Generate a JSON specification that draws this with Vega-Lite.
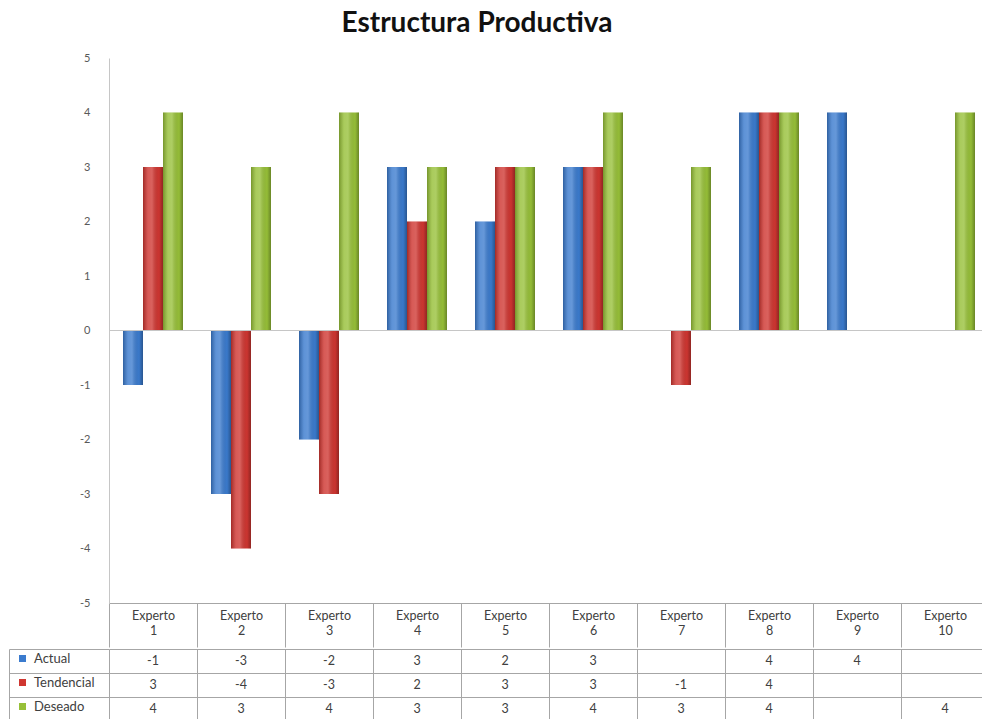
{
  "$schema": "https://vega.github.io/schema/vega-lite/v6.json",
  "padding": {"left": 8, "top": 10, "right": -6, "bottom": 0},
  "autosize": {"type": "pad"},
  "background": "white",
  "title": {"text": "Estructura Productiva", "font": "Lato", "fontSize": 28, "fontWeight": "bold", "color": "#111111", "anchor": "middle", "frame": "bounds", "offset": 14, "dx": -22},
  "config": {"view": {"stroke": null}, "font": "Lato"},
  "spacing": 0,
  "datasets": {
    "puntajes": [
      {"experto": "Experto 1", "serie": "Actual", "valor": -1},
      {"experto": "Experto 1", "serie": "Tendencial", "valor": 3},
      {"experto": "Experto 1", "serie": "Deseado", "valor": 4},
      {"experto": "Experto 2", "serie": "Actual", "valor": -3},
      {"experto": "Experto 2", "serie": "Tendencial", "valor": -4},
      {"experto": "Experto 2", "serie": "Deseado", "valor": 3},
      {"experto": "Experto 3", "serie": "Actual", "valor": -2},
      {"experto": "Experto 3", "serie": "Tendencial", "valor": -3},
      {"experto": "Experto 3", "serie": "Deseado", "valor": 4},
      {"experto": "Experto 4", "serie": "Actual", "valor": 3},
      {"experto": "Experto 4", "serie": "Tendencial", "valor": 2},
      {"experto": "Experto 4", "serie": "Deseado", "valor": 3},
      {"experto": "Experto 5", "serie": "Actual", "valor": 2},
      {"experto": "Experto 5", "serie": "Tendencial", "valor": 3},
      {"experto": "Experto 5", "serie": "Deseado", "valor": 3},
      {"experto": "Experto 6", "serie": "Actual", "valor": 3},
      {"experto": "Experto 6", "serie": "Tendencial", "valor": 3},
      {"experto": "Experto 6", "serie": "Deseado", "valor": 4},
      {"experto": "Experto 7", "serie": "Actual", "valor": null},
      {"experto": "Experto 7", "serie": "Tendencial", "valor": -1},
      {"experto": "Experto 7", "serie": "Deseado", "valor": 3},
      {"experto": "Experto 8", "serie": "Actual", "valor": 4},
      {"experto": "Experto 8", "serie": "Tendencial", "valor": 4},
      {"experto": "Experto 8", "serie": "Deseado", "valor": 4},
      {"experto": "Experto 9", "serie": "Actual", "valor": 4},
      {"experto": "Experto 9", "serie": "Tendencial", "valor": null},
      {"experto": "Experto 9", "serie": "Deseado", "valor": null},
      {"experto": "Experto 10", "serie": "Actual", "valor": null},
      {"experto": "Experto 10", "serie": "Tendencial", "valor": null},
      {"experto": "Experto 10", "serie": "Deseado", "valor": 4}
    ]
  },
  "vconcat": [
    {
      "width": 880,
      "height": 545,
      "data": {"name": "puntajes"},
      "layer": [
        {
          "mark": {"type": "bar"},
          "encoding": {
            "x": {"field": "experto", "type": "nominal", "sort": ["Experto 1", "Experto 2", "Experto 3", "Experto 4", "Experto 5", "Experto 6", "Experto 7", "Experto 8", "Experto 9", "Experto 10"], "scale": {"paddingInner": 0, "paddingOuter": 0},
              "axis": {"title": null, "orient": "bottom", "labelAngle": 0, "labelExpr": "split(datum.label, ' ')", "labelFont": "Lato", "labelFontSize": 12.5, "labelColor": "#404040", "labelLineHeight": 15, "labelBaseline": "top", "tickBand": "extent", "tickSize": 44, "tickColor": "#a6a6a6", "domainColor": "#a6a6a6", "labelPadding": -38, "minExtent": 44, "maxExtent": 44}},
            "xOffset": {"field": "serie", "type": "nominal", "sort": ["Actual", "Tendencial", "Deseado"], "scale": {"paddingInner": 0, "paddingOuter": 0.7}},
            "y": {"field": "valor", "type": "quantitative", "scale": {"domain": [-5, 5], "nice": false},
              "axis": {"title": null, "values": [-5, -4, -3, -2, -1, 0, 1, 2, 3, 4, 5], "labelExpr": "'' + datum.value", "grid": false, "ticks": false, "labelPadding": 19, "labelFont": "Lato", "labelFontSize": 11, "labelColor": "#595959", "domainColor": "#c6c6c6", "minExtent": 100, "maxExtent": 100}},
            "color": {"field": "serie", "type": "nominal", "sort": ["Actual", "Tendencial", "Deseado"],
              "scale": {"domain": ["Actual", "Tendencial", "Deseado"], "range": ["#3b7bce", "#cf3631", "#97c038"]},
              "legend": {"title": null, "orient": "none", "legendX": -93, "legendY": 594, "symbolType": "square", "symbolSize": 49, "symbolStrokeWidth": 0, "labelFont": "Lato", "labelFontSize": 13, "labelColor": "#404040", "labelOffset": 5, "rowPadding": 10, "padding": 0}}
          }
        },
        {
          "mark": {"type": "bar", "fill": {"gradient": "linear", "x1": 0, "x2": 1, "y1": 0, "y2": 0, "stops": [{"offset": 0, "color": "rgba(0,0,0,0.22)"}, {"offset": 0.25, "color": "rgba(255,255,255,0.18)"}, {"offset": 0.45, "color": "rgba(255,255,255,0.22)"}, {"offset": 0.8, "color": "rgba(0,0,0,0.02)"}, {"offset": 1, "color": "rgba(0,0,0,0.3)"}]}},
          "encoding": {
            "x": {"field": "experto", "type": "nominal", "sort": ["Experto 1", "Experto 2", "Experto 3", "Experto 4", "Experto 5", "Experto 6", "Experto 7", "Experto 8", "Experto 9", "Experto 10"]},
            "xOffset": {"field": "serie", "type": "nominal", "sort": ["Actual", "Tendencial", "Deseado"]},
            "y": {"field": "valor", "type": "quantitative"}
          }
        },
        {
          "mark": {"type": "rule", "color": "#c6c6c6", "strokeWidth": 1},
          "encoding": {"y": {"datum": 0, "type": "quantitative"}}
        }
      ]
    },
    {
      "width": 880,
      "height": 72,
      "data": {"name": "puntajes"},
      "transform": [{"filter": "isValid(datum.valor)"}],
      "mark": {"type": "text", "font": "Lato", "fontSize": 12.5, "color": "#404040"},
      "encoding": {
        "x": {"field": "experto", "type": "nominal", "sort": ["Experto 1", "Experto 2", "Experto 3", "Experto 4", "Experto 5", "Experto 6", "Experto 7", "Experto 8", "Experto 9", "Experto 10"], "scale": {"paddingInner": 0, "paddingOuter": 0},
          "axis": {"title": null, "labels": false, "ticks": false, "domain": false, "grid": true, "tickBand": "extent", "gridColor": "#a6a6a6", "gridOpacity": 1, "minExtent": 0, "maxExtent": 0}},
        "y": {"field": "serie", "type": "nominal", "sort": ["Actual", "Tendencial", "Deseado"], "scale": {"paddingInner": 0, "paddingOuter": 0},
          "axis": {"title": null, "labels": false, "ticks": true, "tickSize": -100, "offset": 100, "tickBand": "extent", "tickColor": "#a6a6a6", "domain": true, "domainColor": "#a6a6a6", "grid": true, "gridColor": "#a6a6a6", "gridOpacity": 1, "minExtent": 0, "maxExtent": 0}},
        "text": {"field": "valor", "type": "nominal"}
      }
    }
  ]
}
